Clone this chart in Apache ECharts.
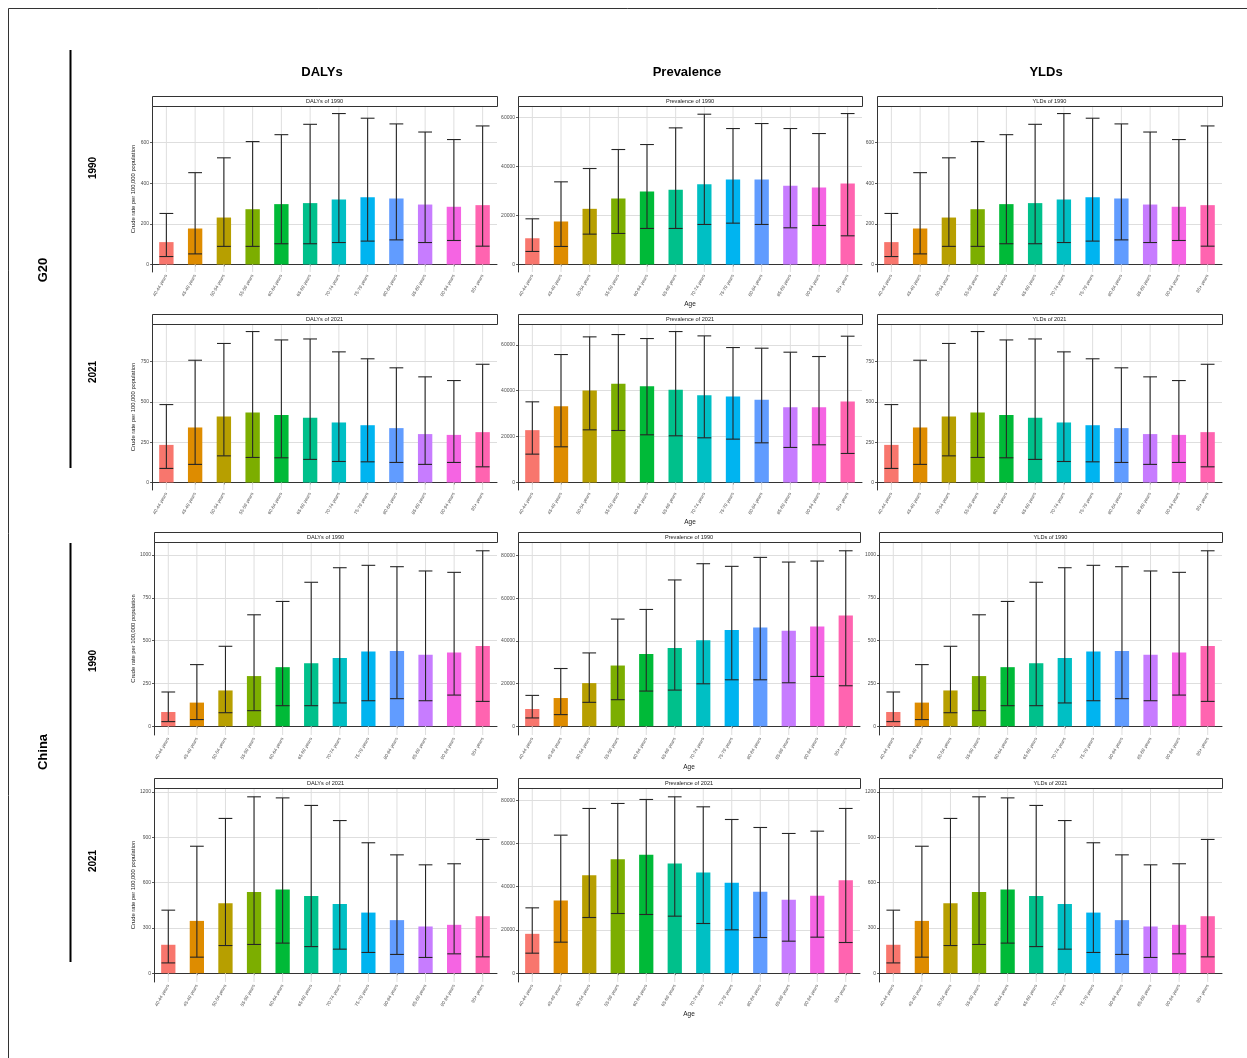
<!DOCTYPE html>
<html>
<head>
<meta charset="utf-8">
<script src="https://cdn.jsdelivr.net/npm/echarts@6/dist/echarts.min.js"></script>
<style>
  html, body { margin: 0; padding: 0; background: #ffffff; }
  #chart { width: 1247px; height: 1058px; }
</style>
</head>
<body>
<div id="chart"></div>
<script>
// Age groups on every x axis
const ageGroups = ['40-44 years', '45-49 years', '50-54 years', '55-59 years', '60-64 years', '65-69 years',
  '70-74 years', '75-79 years', '80-84 years', '85-89 years', '90-94 years', '95+ years'];

// One hue per age group
const barColors = ['#F8766D', '#DE8C00', '#B79F00', '#7CAE00', '#00BA38', '#00C08B',
  '#00BFC4', '#00B4F0', '#619CFF', '#C77CFF', '#F564E3', '#FF64B0'];

// G20, 1990 — DALYs (crude rate per 100,000): value, lower and upper uncertainty bound
const g20Dalys1990 = [110, 177, 231, 272, 297, 302, 320, 331, 325, 295, 284, 292];
const g20Dalys1990Lo = [39, 52, 89, 89, 102, 102, 108, 115, 121, 108, 118, 90];
const g20Dalys1990Hi = [251, 452, 525, 605, 639, 690, 743, 720, 692, 652, 615, 682];
// G20, 1990 — Prevalence
const g20Prev1990 = [10700, 17550, 22720, 26940, 29800, 30480, 32790, 34700, 34700, 32110, 31430, 33060];
const g20Prev1990Lo = [5300, 7350, 12380, 12650, 14700, 14700, 16330, 16870, 16330, 14970, 15920, 11700];
const g20Prev1990Hi = [18640, 33740, 39180, 46940, 48980, 55780, 61360, 55510, 57550, 55510, 53470, 61630];
// G20, 1990 — YLDs
const g20Ylds1990 = [110, 177, 231, 272, 297, 302, 320, 331, 325, 295, 284, 292];
const g20Ylds1990Lo = [39, 52, 89, 89, 102, 102, 108, 115, 121, 108, 118, 90];
const g20Ylds1990Hi = [251, 452, 525, 605, 639, 690, 743, 720, 692, 652, 615, 682];

// G20, 2021 — DALYs
const g20Dalys2021 = [233, 341, 409, 434, 419, 401, 372, 355, 337, 300, 295, 312];
const g20Dalys2021Lo = [87, 112, 165, 155, 153, 143, 130, 128, 124, 112, 124, 97];
const g20Dalys2021Hi = [483, 758, 862, 936, 884, 890, 810, 767, 711, 655, 632, 733];
// G20, 2021 — Prevalence
const g20Prev2021 = [22810, 33270, 40100, 43000, 41990, 40390, 38060, 37480, 36030, 32830, 32830, 35300];
const g20Prev2021Lo = [12350, 15550, 22950, 22660, 20780, 20340, 19470, 18890, 17290, 15260, 16420, 12640];
const g20Prev2021Hi = [35160, 55790, 63490, 64500, 62760, 65810, 63920, 58840, 58550, 56810, 54920, 63780];
// G20, 2021 — YLDs
const g20Ylds2021 = [233, 341, 409, 434, 419, 401, 372, 355, 337, 300, 295, 312];
const g20Ylds2021Lo = [87, 112, 165, 155, 153, 143, 130, 128, 124, 112, 124, 97];
const g20Ylds2021Hi = [483, 758, 862, 936, 884, 890, 810, 767, 711, 655, 632, 733];

// China, 1990 — DALYs
const chnDalys1990 = [83, 138, 209, 293, 345, 368, 399, 436, 440, 417, 430, 469];
const chnDalys1990Lo = [27, 39, 79, 91, 120, 120, 136, 149, 161, 149, 182, 145];
const chnDalys1990Hi = [200, 360, 467, 651, 729, 841, 926, 940, 932, 907, 899, 1025];
// China, 1990 — Prevalence
const chnPrev1990 = [8090, 13230, 20230, 28480, 33930, 36730, 40310, 45140, 46380, 44820, 46850, 51980];
const chnPrev1990Lo = [3890, 5450, 11210, 12450, 16500, 16960, 19920, 21790, 21790, 20390, 23350, 18990];
const chnPrev1990Hi = [14470, 27080, 34400, 50270, 54790, 68640, 76260, 75020, 79220, 77040, 77510, 82330];
// China, 1990 — YLDs
const chnYlds1990 = [83, 138, 209, 293, 345, 368, 399, 436, 440, 417, 430, 469];
const chnYlds1990Lo = [27, 39, 79, 91, 120, 120, 136, 149, 161, 149, 182, 145];
const chnYlds1990Hi = [200, 360, 467, 651, 729, 841, 926, 940, 932, 907, 899, 1025];

// China, 2021 — DALYs
const chnDalys2021 = [188, 346, 463, 538, 554, 510, 457, 401, 351, 309, 320, 377];
const chnDalys2021Lo = [68, 106, 183, 190, 199, 176, 159, 137, 124, 104, 128, 108];
const chnDalys2021Hi = [417, 840, 1024, 1167, 1160, 1110, 1010, 863, 783, 717, 724, 885];
// China, 2021 — Prevalence
const chnPrev2021 = [18190, 33600, 45320, 52720, 54720, 50710, 46550, 41770, 37610, 33910, 35760, 43010];
const chnPrev2021Lo = [9250, 14340, 25740, 27590, 27130, 26360, 22970, 20040, 16490, 14800, 16650, 14180];
const chnPrev2021Hi = [30210, 63820, 76150, 78460, 80310, 81540, 76920, 71060, 67360, 64590, 65660, 76150];
// China, 2021 — YLDs
const chnYlds2021 = [188, 346, 463, 538, 554, 510, 457, 401, 351, 309, 320, 377];
const chnYlds2021Lo = [68, 106, 183, 190, 199, 176, 159, 137, 124, 104, 128, 108];
const chnYlds2021Hi = [417, 840, 1024, 1167, 1160, 1110, 1010, 863, 783, 717, 724, 885];

// y-axis tick values for each panel
const ticksG20Rate1990 = [0, 200, 400, 600];
const ticksG20Rate2021 = [0, 250, 500, 750];
const ticksG20Prev = [0, 20000, 40000, 60000];
const ticksChnRate1990 = [0, 250, 500, 750, 1000];
const ticksChnRate2021 = [0, 300, 600, 900, 1200];
const ticksChnPrev = [0, 20000, 40000, 60000, 80000];

// Headings
const measureTitles = ['DALYs', 'Prevalence', 'YLDs'];
const groupTitles = ['G20', 'China'];
const yearTitles = ['1990', '2021', '1990', '2021'];
const yAxisTitle = 'Crude rate per 100,000 population';
const xAxisTitle = 'Age';

const panels = [
  { title: 'DALYs of 1990', v: g20Dalys1990, lo: g20Dalys1990Lo, hi: g20Dalys1990Hi, ticks: ticksG20Rate1990 },
  { title: 'Prevalence of 1990', v: g20Prev1990, lo: g20Prev1990Lo, hi: g20Prev1990Hi, ticks: ticksG20Prev },
  { title: 'YLDs of 1990', v: g20Ylds1990, lo: g20Ylds1990Lo, hi: g20Ylds1990Hi, ticks: ticksG20Rate1990 },
  { title: 'DALYs of 2021', v: g20Dalys2021, lo: g20Dalys2021Lo, hi: g20Dalys2021Hi, ticks: ticksG20Rate2021 },
  { title: 'Prevalence of 2021', v: g20Prev2021, lo: g20Prev2021Lo, hi: g20Prev2021Hi, ticks: ticksG20Prev },
  { title: 'YLDs of 2021', v: g20Ylds2021, lo: g20Ylds2021Lo, hi: g20Ylds2021Hi, ticks: ticksG20Rate2021 },
  { title: 'DALYs of 1990', v: chnDalys1990, lo: chnDalys1990Lo, hi: chnDalys1990Hi, ticks: ticksChnRate1990 },
  { title: 'Prevalence of 1990', v: chnPrev1990, lo: chnPrev1990Lo, hi: chnPrev1990Hi, ticks: ticksChnPrev },
  { title: 'YLDs of 1990', v: chnYlds1990, lo: chnYlds1990Lo, hi: chnYlds1990Hi, ticks: ticksChnRate1990 },
  { title: 'DALYs of 2021', v: chnDalys2021, lo: chnDalys2021Lo, hi: chnDalys2021Hi, ticks: ticksChnRate2021 },
  { title: 'Prevalence of 2021', v: chnPrev2021, lo: chnPrev2021Lo, hi: chnPrev2021Hi, ticks: ticksChnPrev },
  { title: 'YLDs of 2021', v: chnYlds2021, lo: chnYlds2021Lo, hi: chnYlds2021Hi, ticks: ticksChnRate2021 }
];

// Panel layout (pixels): plot rows and, per row, the column extents
const rowBoxes = [
  { top: 106, height: 166 },
  { top: 324, height: 166 },
  { top: 542, height: 193 },
  { top: 788, height: 194 }
];
const colBoxes = [
  [[152, 497], [518, 862], [877, 1222]],
  [[152, 497], [518, 862], [877, 1222]],
  [[154, 497], [518, 860], [879, 1222]],
  [[154, 497], [518, 860], [879, 1222]]
];
const STRIP_H = 10;
const FONT = 'Liberation Sans, Arial, sans-serif';
const AXIS_DARK = '#333333';
const GRID_LIGHT = '#dedede';
const LABEL_GREY = '#4d4d4d';

const grids = [], xAxes = [], yAxes = [], series = [], graphics = [];

panels.forEach((p, k) => {
  const r = Math.floor(k / 3), c = k % 3;
  const [x0, x1] = colBoxes[r][c];
  const { top, height } = rowBoxes[r];
  const maxHi = Math.max(...p.hi);

  grids.push({ left: x0, top: top, width: x1 - x0, height: height, outerBoundsMode: 'none', containLabel: false });

  xAxes.push({
    type: 'category', gridIndex: k, data: ageGroups,
    boundaryGap: true,
    name: c === 1 ? xAxisTitle : '',
    nameLocation: 'middle', nameGap: 29,
    nameTextStyle: { fontSize: 6.5, color: '#222', fontFamily: FONT },
    axisLine: { show: true, lineStyle: { color: AXIS_DARK, width: 1 } },
    axisTick: { show: true, alignWithLabel: true, length: 2, lineStyle: { color: AXIS_DARK, width: 0.8 } },
    axisLabel: { interval: 0, rotate: 60, fontSize: 4.6, margin: 3, color: LABEL_GREY, fontFamily: FONT },
    splitLine: { show: false }
  });

  yAxes.push({
    type: 'value', gridIndex: k,
    min: -0.05 * maxHi, max: 1.05 * maxHi,
    name: c === 0 ? yAxisTitle : '',
    nameLocation: 'middle', nameGap: r < 2 ? 16 : 18,
    nameTextStyle: { fontSize: 5.8, color: '#222', fontFamily: FONT },
    axisLine: { show: true, lineStyle: { color: AXIS_DARK, width: 1 } },
    axisTick: { show: true, length: 2, customValues: p.ticks, lineStyle: { color: AXIS_DARK, width: 0.8 } },
    axisLabel: { customValues: p.ticks, formatter: v => String(v), fontSize: 5, margin: 3, color: LABEL_GREY, fontFamily: FONT },
    splitLine: { show: true, lineStyle: { color: GRID_LIGHT, width: 1 } }
  });

  // vertical gridlines at each age group
  series.push({
    type: 'custom', xAxisIndex: k, yAxisIndex: k, z: 1, silent: true,
    data: ageGroups.map((_, i) => [i]),
    encode: { x: 0 },
    renderItem: (params, api) => {
      const cs = params.coordSys;
      const x = api.coord([api.value(0), 0])[0];
      return { type: 'line', shape: { x1: x, y1: cs.y, x2: x, y2: cs.y + cs.height },
        style: { stroke: GRID_LIGHT, lineWidth: 1 } };
    }
  });

  series.push({
    type: 'bar', xAxisIndex: k, yAxisIndex: k, z: 2, barWidth: '50%',
    data: p.v.map((v, i) => ({ value: v, itemStyle: { color: barColors[i] } }))
  });

  // uncertainty interval with caps at both ends
  series.push({
    type: 'custom', xAxisIndex: k, yAxisIndex: k, z: 3, silent: true,
    data: p.v.map((_, i) => [i, p.lo[i], p.hi[i]]),
    encode: { x: 0, y: [1, 2] },
    renderItem: (params, api) => {
      const lo = api.coord([api.value(0), api.value(1)]);
      const hi = api.coord([api.value(0), api.value(2)]);
      const half = api.size([1, 0])[0] * 0.24;
      const st = { stroke: '#262626', lineWidth: 1.1 };
      return { type: 'group', children: [
        { type: 'line', shape: { x1: lo[0], y1: lo[1], x2: hi[0], y2: hi[1] }, style: st },
        { type: 'line', shape: { x1: hi[0] - half, y1: hi[1], x2: hi[0] + half, y2: hi[1] }, style: st },
        { type: 'line', shape: { x1: lo[0] - half, y1: lo[1], x2: lo[0] + half, y2: lo[1] }, style: st }
      ] };
    }
  });

  // facet strip above the panel
  graphics.push({
    type: 'rect', left: x0, top: top - STRIP_H, z: 10,
    shape: { width: x1 - x0, height: STRIP_H },
    style: { fill: '#ffffff', stroke: AXIS_DARK, lineWidth: 1 }
  });
  graphics.push({
    type: 'text', x: (x0 + x1) / 2, y: top - STRIP_H / 2, z: 11,
    style: { text: p.title, fontSize: 5.6, fill: '#1a1a1a', fontFamily: FONT, align: 'center', verticalAlign: 'middle' }
  });
});

// figure frame (top and left edges)
graphics.push({ type: 'line', z: 10, shape: { x1: 8.5, y1: 8.5, x2: 1247, y2: 8.5 }, style: { stroke: '#333', lineWidth: 1 } });
graphics.push({ type: 'line', z: 10, shape: { x1: 8.5, y1: 8.5, x2: 8.5, y2: 1058 }, style: { stroke: '#333', lineWidth: 1 } });

// column headings
const colCenters = [322, 687, 1046];
measureTitles.forEach((t, i) => graphics.push({
  type: 'text', x: colCenters[i], y: 72, z: 10,
  style: { text: t, fontSize: 13, fontWeight: 'bold', fill: '#000', fontFamily: FONT, align: 'center', verticalAlign: 'middle' }
}));

// group headings with their brackets
const groupSpans = [[50, 468], [543, 962]];
const groupCenters = [270, 752];
groupTitles.forEach((t, i) => {
  graphics.push({
    type: 'line', z: 10,
    shape: { x1: 70.5, y1: groupSpans[i][0], x2: 70.5, y2: groupSpans[i][1] },
    style: { stroke: '#000', lineWidth: 2 }
  });
  graphics.push({
    type: 'text', x: 43, y: groupCenters[i], rotation: Math.PI / 2, z: 10,
    style: { text: t, fontSize: 13, fontWeight: 'bold', fill: '#000', fontFamily: FONT, align: 'center', verticalAlign: 'middle' }
  });
});

// year headings per row
const yearCenters = [168, 372, 661, 861];
yearTitles.forEach((t, i) => graphics.push({
  type: 'text', x: 93, y: yearCenters[i], rotation: Math.PI / 2, z: 10,
  style: { text: t, fontSize: 10, fontWeight: 'bold', fill: '#000', fontFamily: FONT, align: 'center', verticalAlign: 'middle' }
}));

const chart = echarts.init(document.getElementById('chart'), null, { renderer: 'canvas' });
chart.setOption({
  animation: false,
  backgroundColor: '#ffffff',
  grid: grids,
  xAxis: xAxes,
  yAxis: yAxes,
  series: series,
  graphic: graphics
});
</script>
</body>
</html>
